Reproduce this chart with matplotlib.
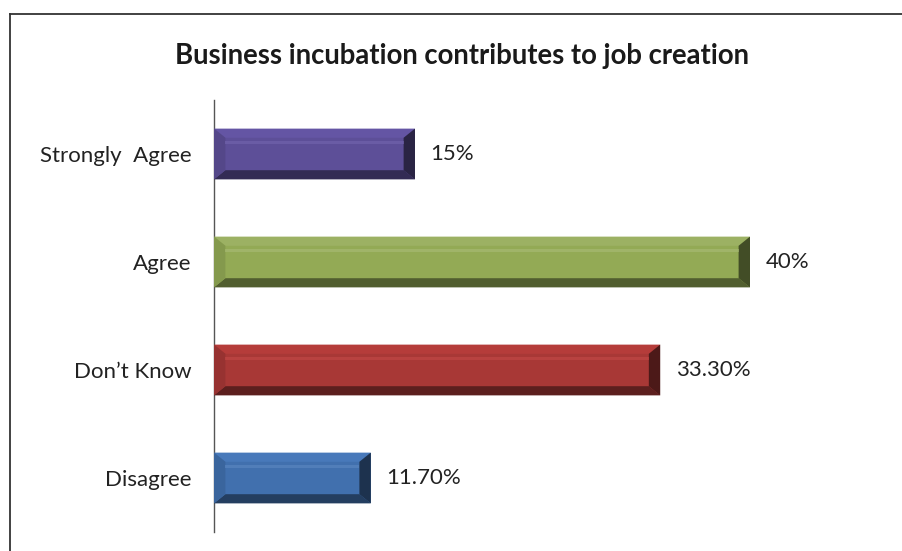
import matplotlib
matplotlib.use("Agg")
import matplotlib.pyplot as plt
from matplotlib.patches import Polygon, Rectangle
from matplotlib.lines import Line2D
import colorsys
import matplotlib.colors as mcolors

categories = ["Strongly  Agree", "Agree", "Don\u2019t Know", "Disagree"]
values = [15, 40, 33.3, 11.7]
value_labels = ["15%", "40%", "33.30%", "11.70%"]
colors = ["#5D4F98", "#93AA55", "#A83836", "#4170AE"]
title = "Business incubation contributes to job creation"

plt.rcParams["font.family"] = ["Lato", "DejaVu Sans"]

W, H = 902, 551
fig = plt.figure(figsize=(W / 100, H / 100), dpi=100)
fig.patch.set_facecolor("white")

ax_left, ax_right = 214, 817
ax_top, ax_bot = 100, 532
ax = fig.add_axes([ax_left / W, 1 - ax_bot / H, (ax_right - ax_left) / W, (ax_bot - ax_top) / H])
ax.set_xlim(0, 45)
n = len(categories)
ax.set_ylim(n - 0.5, -0.5)


def shade(c, f):
    r, g, b = mcolors.to_rgb(c)
    h, l, s = colorsys.rgb_to_hls(r, g, b)
    l = max(0, min(1, l * f))
    return colorsys.hls_to_rgb(h, l, s)


bar_h = 0.47
bev_x = 0.85   # bevel width in x units
bev_y = 0.085  # bevel height in y units
for i, (v, c) in enumerate(zip(values, colors)):
    y0, y1 = i - bar_h / 2, i + bar_h / 2  # y0 top (inverted axis)
    ax.add_patch(Rectangle((0, y0), v, bar_h, facecolor=c, edgecolor="none", zorder=2))
    # top bevel (light)
    ax.add_patch(Polygon([(0, y0), (v, y0), (v - bev_x, y0 + bev_y), (bev_x, y0 + bev_y)],
                         closed=True, facecolor=shade(c, 1.08), edgecolor="none", zorder=3))
    # bottom bevel (dark)
    ax.add_patch(Polygon([(0, y1), (v, y1), (v - bev_x, y1 - bev_y), (bev_x, y1 - bev_y)],
                         closed=True, facecolor=shade(c, 0.55), edgecolor="none", zorder=3))
    # right bevel (dark)
    ax.add_patch(Polygon([(v, y0), (v, y1), (v - bev_x, y1 - bev_y), (v - bev_x, y0 + bev_y)],
                         closed=True, facecolor=shade(c, 0.45), edgecolor="none", zorder=3))
    # left bevel
    ax.add_patch(Polygon([(0, y0), (0, y1), (bev_x, y1 - bev_y), (bev_x, y0 + bev_y)],
                         closed=True, facecolor=shade(c, 0.9), edgecolor="none", zorder=3))
    # highlight streak
    ax.add_patch(Rectangle((bev_x, y0 + bev_y + 0.025), v - 2 * bev_x, 0.035,
                           facecolor=shade(c, 1.2), edgecolor="none", alpha=0.6, zorder=3))
    ax.text(v + 1.15, i, value_labels[i], va="center", ha="left", fontsize=16, color="#222222")

ax.set_yticks(range(n))
ax.set_yticklabels(categories, fontsize=16, color="#222222")
ax.tick_params(axis="y", length=0, pad=16)
ax.set_xticks([])
for s in ["top", "right", "bottom"]:
    ax.spines[s].set_visible(False)
ax.spines["left"].set_color("#555555")
ax.spines["left"].set_linewidth(1.0)
ax.set_facecolor("none")

fig.text(462 / W, 1 - 56 / H, title, ha="center", va="center", fontsize=19.8,
         fontweight="bold", color="#1a1a1a")

# outer frame: top and left edges
fig.add_artist(Line2D([10 / W, 1], [1 - 14 / H, 1 - 14 / H], transform=fig.transFigure,
                      color="#333333", lw=1.3))
fig.add_artist(Line2D([10 / W, 10 / W], [1 - 14 / H, 0], transform=fig.transFigure,
                      color="#333333", lw=1.3))

fig.savefig("out.png", dpi=100)
